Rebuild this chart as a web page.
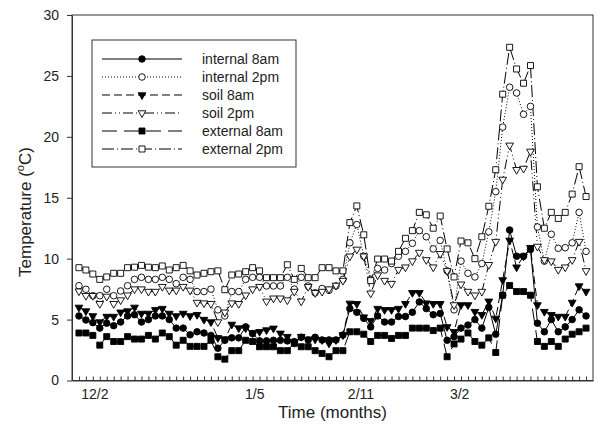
<!DOCTYPE html>
<html lang="en">
  <head>
    <meta charset="UTF-8" />
    <title>Temperature</title>
    <script src="https://cdn.jsdelivr.net/npm/d3@7"></script>
    <style>
      body {
        margin: 0;
        background: #fff;
      }
      text {
        font-family: "Liberation Sans", Arial, sans-serif;
      }
    </style>
  </head>
  <body>
    <script>
      const width = 599;
      const height = 428;

      // day index 1..74 along the x axis
      const days = d3.range(1, 75);

      const tickLabels = ["12/2", "1/5", "2/11", "3/2"];
      const tickDays = [3.3, 26.3, 41.6, 55.8];

      const seriesNames = [
        "internal 8am",
        "internal 2pm",
        "soil 8am",
        "soil 2pm",
        "external 8am",
        "external 2pm",
      ];

      const internal8am = [
        5.3, 4.97, 4.75, 4.3, 4.7, 4.5, 4.8, 5.3, 5.4, 4.8, 5.0, 5.3, 5.3, 5.0,
        4.3, 4.3, 3.75, 4.0, 3.9, 3.7, 2.65, 3.3, 3.5, 3.5, 4.4, 3.85, 3.25,
        3.25, 3.3, 3.3, 3.25, 3.19, 3.55, 3.33, 3.55, 3.33, 3.33, 3.33, 3.73,
        5.9, 5.6, 5.1, 4.4, 5.3, 4.8, 4.8, 5.25, 5.25, 5.6, 6.45, 5.9, 5.4, 5.5,
        3.3, 3.6, 4.3, 4.55, 5.0, 4.3, 6.0, 3.8, 7.0, 12.35, 10.2, 10.2, 10.76,
        4.7, 4.0, 5.0, 4.0, 4.4, 5.0, 5.8, 5.3,
      ];
      const internal2pm = [
        7.78, 7.49, 6.96, 6.96, 7.49, 6.96, 7.35, 7.78, 8.3, 8.47, 8.3, 8.3,
        8.47, 8.3, 7.95, 8.47, 8.3, 7.3, 7.3, 7.5, 5.8, 5.3, 7.3, 7.3, 8.3,
        8.47, 8.47, 7.76, 7.76, 7.76, 8.47, 7.5, 8.47, 7.76, 7.2, 7.55, 7.4,
        7.76, 8.3, 11.3, 12.8, 10.2, 8.3, 9.2, 9.07, 9.6, 10.2, 10.6, 11.26,
        12.3, 11.8, 10.8, 11.5, 9.0, 5.8, 9.8, 8.8, 8.5, 9.6, 12.2, 15.5, 20.8,
        24.07, 23.6, 21.85, 22.5, 12.6, 9.8, 12.0, 10.85, 10.9, 11.3, 13.8, 10.6,
      ];
      const soil8am = [
        6.0, 5.7, 5.3, 4.8, 5.25, 5.25, 5.6, 5.7, 6.0, 5.5, 5.5, 5.8, 5.9, 5.5,
        5.3, 5.5, 5.3, 5.4, 5.0, 4.8, 3.5, 3.4, 4.6, 4.3, 4.3, 3.9, 4.0, 4.14,
        4.28, 3.87, 3.6, 3.1, 3.6, 3.38, 3.38, 3.33, 3.05, 3.33, 3.73, 6.33,
        6.3, 5.2, 4.9, 5.9, 5.8, 5.8, 5.9, 6.3, 7.2, 7.2, 6.35, 6.3, 6.3, 4.4,
        4.0, 6.2, 6.2, 5.65, 5.4, 6.5, 5.1, 8.25, 11.5, 9.3, 10.2, 10.9, 6.2,
        5.65, 5.4, 5.25, 5.25, 6.4, 7.75, 7.3,
      ];
      const soil2pm = [
        7.33, 6.96, 6.96, 6.3, 6.9, 6.3, 6.6, 7.0, 7.5, 7.5, 7.3, 7.3, 7.7, 7.4,
        7.4, 7.7, 7.4, 6.4, 6.35, 6.3, 4.8, 5.6, 6.35, 6.3, 7.0, 7.5, 7.7, 6.5,
        6.75, 6.75, 6.6, 7.3, 6.5, 7.7, 7.2, 7.3, 7.5, 7.8, 8.2, 10.2, 10.76,
        10.2, 7.16, 8.65, 8.2, 7.95, 9.1, 9.3, 9.8, 10.5, 9.9, 9.3, 10.4, 9.0,
        6.2, 7.9, 7.3, 7.0, 7.3, 9.5, 11.4, 16.5, 19.3, 17.3, 17.4, 18.8, 11.0,
        9.9, 9.8, 9.1, 9.3, 9.9, 11.4, 9.0,
      ];
      const external8am = [
        3.9, 3.9, 3.7, 2.9, 3.6, 3.2, 3.2, 3.6, 3.4, 3.4, 3.7, 3.4, 3.9, 3.6,
        2.9, 3.3, 2.8, 2.8, 2.8, 3.3, 1.95, 1.75, 2.45, 2.45, 3.3, 3.2, 2.77,
        2.77, 2.77, 2.45, 2.45, 3.05, 2.77, 2.77, 2.45, 2.22, 1.95, 2.45, 2.45,
        4.0, 4.0, 3.8, 3.2, 3.7, 3.7, 3.45, 3.7, 3.7, 4.3, 4.3, 4.3, 4.1, 4.3,
        1.95, 3.0, 3.4, 3.9, 3.2, 2.9, 3.5, 2.3, 7.0, 7.8, 7.3, 7.3, 7.0, 3.2,
        2.8, 3.2, 2.8, 3.4, 3.8, 4.0, 4.3,
      ];
      const external2pm = [
        9.26, 9.07, 8.74, 8.3, 8.5, 8.8, 8.8, 9.26, 9.3, 9.45, 9.3, 9.26, 9.4,
        9.07, 9.26, 9.45, 9.0, 8.66, 8.8, 8.93, 9.0, 7.45, 8.66, 8.74, 8.93,
        9.26, 9.0, 8.44, 8.44, 8.44, 9.5, 8.3, 9.2, 8.44, 8.44, 9.26, 9.26, 9.0,
        9.0, 12.96, 14.33, 11.96, 8.2, 9.97, 9.97, 9.8, 10.6, 11.67, 12.3, 13.8,
        13.6, 12.5, 13.5, 10.8, 8.5, 11.45, 11.3, 10.0, 11.8, 14.3, 17.3, 23.5,
        27.35, 25.57, 24.4, 25.85, 15.9, 12.5, 13.8, 13.3, 13.8, 15.3, 17.55,
        15.1,
      ];

      const seriesValues = [
        internal8am,
        internal2pm,
        soil8am,
        soil2pm,
        external8am,
        external2pm,
      ];

      // marker / line style for each series
      const styles = [
        { symbol: d3.symbolCircle, size: 34, fill: "#000", dash: null, rot: 0 },
        { symbol: d3.symbolCircle, size: 34, fill: "#fff", dash: "1,2", rot: 0 },
        { symbol: d3.symbolTriangle, size: 26, fill: "#000", dash: "8,4", rot: 180 },
        { symbol: d3.symbolTriangle, size: 26, fill: "#fff", dash: "10,3,1,3,1,3", rot: 180 },
        { symbol: d3.symbolSquare, size: 36, fill: "#000", dash: "15,7", rot: 0 },
        { symbol: d3.symbolSquare, size: 36, fill: "#fff", dash: "12,3,1,3", rot: 0 },
      ];

      const margin = { top: 15, right: 6, bottom: 47.5, left: 72 };

      const svg = d3
        .select("body")
        .append("svg")
        .attr("width", width)
        .attr("height", height);

      const x = d3
        .scaleLinear()
        .domain([0, 75])
        .range([margin.left, width - margin.right]);
      const y = d3
        .scaleLinear()
        .domain([0, 30])
        .range([height - margin.bottom, margin.top]);

      // frame
      svg
        .append("rect")
        .attr("x", x(0))
        .attr("y", y(30))
        .attr("width", x(75) - x(0))
        .attr("height", y(0) - y(30))
        .attr("fill", "none")
        .attr("stroke", "#333")
        .attr("stroke-width", 1);

      // y axis
      const yAxis = svg
        .append("g")
        .attr("transform", `translate(${x(0)},0)`)
        .call(
          d3
            .axisLeft(y)
            .tickValues(d3.range(0, 31, 5))
            .tickSize(5)
            .tickSizeOuter(0)
            .tickPadding(8)
        );
      yAxis.selectAll("text").attr("font-size", 14).attr("fill", "#222");
      yAxis.selectAll("line,path").attr("stroke", "#333");

      // x axis: minor inside ticks for every day
      const xAxis = svg
        .append("g")
        .attr("transform", `translate(0,${y(0)})`)
        .call(
          d3
            .axisBottom(x)
            .tickValues(days)
            .tickSize(-4)
            .tickSizeOuter(0)
            .tickFormat("")
        );
      xAxis.selectAll("line,path").attr("stroke", "#333");

      svg
        .append("g")
        .selectAll("text")
        .data(tickLabels)
        .join("text")
        .attr("x", (d, i) => x(tickDays[i]))
        .attr("y", y(0) + 18)
        .attr("text-anchor", "middle")
        .attr("font-size", 14)
        .attr("fill", "#222")
        .text((d) => d);

      // axis titles
      svg
        .append("text")
        .attr("x", (x(0) + x(75)) / 2)
        .attr("y", 418)
        .attr("text-anchor", "middle")
        .attr("font-size", 17)
        .attr("fill", "#222")
        .text("Time (months)");

      const yTitle = svg
        .append("text")
        .attr("transform", `translate(31,212) rotate(-90)`)
        .attr("text-anchor", "middle")
        .attr("font-size", 17)
        .attr("fill", "#222");
      yTitle.append("tspan").text("Temperature (");
      yTitle
        .append("tspan")
        .attr("font-size", 11)
        .attr("dy", -7)
        .text("o");
      yTitle.append("tspan").attr("dy", 7).text("C)");

      // series lines
      const line = d3
        .line()
        .x((d, i) => x(days[i]))
        .y((d) => y(d));

      const plot = svg.append("g");

      seriesValues.forEach((vals, k) => {
        plot
          .append("path")
          .datum(vals)
          .attr("d", line)
          .attr("fill", "none")
          .attr("stroke", "#000")
          .attr("stroke-width", 1)
          .attr("stroke-dasharray", styles[k].dash);
      });

      seriesValues.forEach((vals, k) => {
        const st = styles[k];
        plot
          .append("g")
          .selectAll("path")
          .data(vals)
          .join("path")
          .attr("d", d3.symbol(st.symbol, st.size))
          .attr(
            "transform",
            (d, i) => `translate(${x(days[i])},${y(d)}) rotate(${st.rot})`
          )
          .attr("fill", st.fill)
          .attr("stroke", "#000")
          .attr("stroke-width", 0.9);
      });

      // legend
      const legend = svg.append("g");
      legend
        .append("rect")
        .attr("x", 92)
        .attr("y", 40)
        .attr("width", 204)
        .attr("height", 127)
        .attr("fill", "#fff")
        .attr("stroke", "#333");

      const rows = legend
        .selectAll("g.row")
        .data(seriesNames)
        .join("g")
        .attr("class", "row")
        .attr("transform", (d, i) => `translate(0,${59 + i * 18})`);

      rows
        .append("line")
        .attr("x1", 102)
        .attr("x2", 182)
        .attr("stroke", "#000")
        .attr("stroke-dasharray", (d, i) => styles[i].dash);

      rows
        .append("path")
        .attr("d", (d, i) => d3.symbol(styles[i].symbol, styles[i].size)())
        .attr("transform", (d, i) => `translate(142,0) rotate(${styles[i].rot})`)
        .attr("fill", (d, i) => styles[i].fill)
        .attr("stroke", "#000")
        .attr("stroke-width", 0.9);

      rows
        .append("text")
        .attr("x", 202)
        .attr("dy", "0.35em")
        .attr("font-size", 14)
        .attr("fill", "#222")
        .text((d) => d);
    </script>
  </body>
</html>
